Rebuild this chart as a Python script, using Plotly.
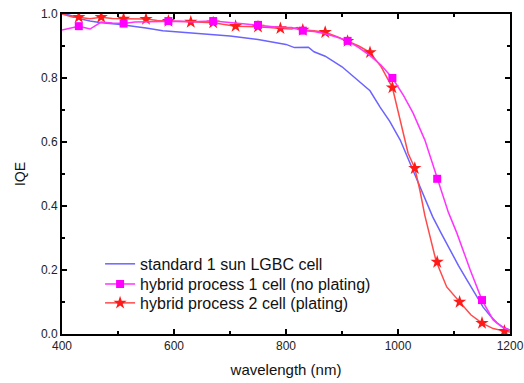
import plotly.graph_objects as go

# ---- data ----
std_x = [400, 410, 420, 430, 450, 470, 500, 530, 550, 580, 600, 650, 700, 750, 780, 800,
         815, 830, 840, 850, 870, 900, 930, 950, 968, 985, 1004, 1025, 1036, 1052, 1062,
         1077, 1093, 1108, 1123, 1138, 1152, 1165, 1177, 1188, 1195, 1200]
std_y = [1.0, 0.998, 0.993, 0.986, 0.978, 0.973, 0.968, 0.962, 0.956, 0.948, 0.945, 0.939,
         0.931, 0.92, 0.912, 0.905, 0.895, 0.897, 0.896, 0.882, 0.868, 0.835, 0.79, 0.76,
         0.709, 0.665, 0.606, 0.52, 0.47, 0.405, 0.366, 0.315, 0.262, 0.214, 0.169, 0.124,
         0.084, 0.056, 0.034, 0.021, 0.015, 0.012]

np_x = [400, 415, 430, 450, 470, 490, 510, 530, 550, 570, 590, 610, 630, 650, 670, 690,
        710, 730, 750, 770, 790, 810, 830, 850, 870, 890, 910, 930, 950, 970, 990, 1010,
        1027, 1048, 1070, 1090, 1105, 1129, 1150, 1170, 1188, 1200]
np_y = [0.95, 0.955, 0.962, 0.953, 0.975, 0.972, 0.97, 0.975, 0.976, 0.977, 0.978, 0.977,
        0.976, 0.977, 0.978, 0.975, 0.972, 0.969, 0.966, 0.962, 0.958, 0.958, 0.948, 0.945,
        0.938, 0.928, 0.916, 0.895, 0.87, 0.84, 0.80, 0.745, 0.69, 0.606, 0.485, 0.38,
        0.316, 0.2, 0.106, 0.044, 0.019, 0.012]
np_mx = [430, 510, 590, 670, 750, 830, 910, 990, 1070, 1150]
np_my = [0.962, 0.97, 0.978, 0.978, 0.966, 0.948, 0.916, 0.80, 0.485, 0.106]

pl_x = [400, 410, 420, 430, 450, 470, 490, 510, 530, 550, 570, 590, 610, 630, 650, 670,
        690, 710, 730, 750, 770, 790, 810, 820, 830, 850, 870, 890, 910, 930, 950, 970,
        990, 1007, 1018, 1030, 1039, 1048, 1068, 1087, 1110, 1130, 1150, 1170, 1190, 1200]
pl_y = [1.0, 0.995, 0.99, 0.99, 0.985, 0.99, 0.986, 0.985, 0.985, 0.984, 0.98, 0.978,
        0.976, 0.975, 0.974, 0.973, 0.968, 0.962, 0.961, 0.96, 0.958, 0.955, 0.953, 0.958,
        0.95, 0.948, 0.943, 0.93, 0.915, 0.9, 0.88, 0.835, 0.77, 0.647, 0.565, 0.518,
        0.45, 0.37, 0.228, 0.147, 0.10, 0.06, 0.034, 0.017, 0.009, 0.006]
pl_mx = [430, 470, 510, 550, 590, 630, 670, 710, 750, 790, 830, 870, 910, 950, 990,
         1030, 1070, 1110, 1150, 1190]
pl_my = [0.99, 0.99, 0.985, 0.984, 0.978, 0.975, 0.973, 0.962, 0.96, 0.955, 0.95, 0.943,
         0.915, 0.88, 0.77, 0.518, 0.225, 0.10, 0.034, 0.009]

names = ["standard 1 sun LGBC cell", "hybrid process 1 cell (no plating)",
         "hybrid process 2 cell (plating)"]

BLUE = "#6b63ff"
MAG = "#ff33ff"
RED = "#ff4a4a"
FONT = "Liberation Sans, Arial"

fig = go.Figure()
fig.add_trace(go.Scatter(x=std_x, y=std_y, mode="lines", line=dict(color=BLUE, width=1.5),
                         showlegend=False))
fig.add_trace(go.Scatter(x=pl_x, y=pl_y, mode="lines", line=dict(color=RED, width=1.5),
                         showlegend=False))
fig.add_trace(go.Scatter(x=pl_mx, y=pl_my, mode="markers",
                         marker=dict(symbol="star", size=10, color="#ff1a1a"),
                         showlegend=False))
fig.add_trace(go.Scatter(x=np_x, y=np_y, mode="lines", line=dict(color=MAG, width=1.5),
                         showlegend=False))
fig.add_trace(go.Scatter(x=np_mx, y=np_my, mode="markers",
                         marker=dict(symbol="square", size=8, color="#ff00ff"),
                         showlegend=False))
# legend entries (one legend per row for tight row spacing)
fig.add_trace(go.Scatter(x=[None], y=[None], mode="lines", name=names[0],
                         line=dict(color=BLUE, width=1.5), legend="legend"))
fig.add_trace(go.Scatter(x=[None], y=[None], mode="lines+markers", name=names[1],
                         line=dict(color=MAG, width=1.5), legend="legend2",
                         marker=dict(symbol="square", size=8, color="#ff00ff")))
fig.add_trace(go.Scatter(x=[None], y=[None], mode="lines+markers", name=names[2],
                         line=dict(color=RED, width=1.5), legend="legend3",
                         marker=dict(symbol="star", size=10, color="#ff1a1a")))

axis_common = dict(showline=True, linecolor="black", linewidth=2, mirror="ticks",
                   ticks="inside", ticklen=5, tickwidth=2, tickcolor="black",
                   showgrid=False, zeroline=False, automargin=False,
                   ticklabeloverflow="allow",
                   tickfont=dict(family=FONT, size=12, color="#222"))

fig.update_xaxes(range=[400, 1200], tickvals=[400, 600, 800, 1000, 1200],
                 minor=dict(tickvals=[500, 700, 900, 1100], ticks="inside", ticklen=3,
                            tickwidth=1.5, tickcolor="black"),
                 title=dict(text="wavelength (nm)", standoff=12,
                            font=dict(family=FONT, size=15, color="#111")),
                 **axis_common)
fig.update_yaxes(range=[0, 1.0], tickvals=[0, 0.2, 0.4, 0.6, 0.8, 1.0],
                 ticktext=["0.0", "0.2", "0.4", "0.6", "0.8", "1.0"],
                 minor=dict(tickvals=[0.1, 0.3, 0.5, 0.7, 0.9], ticks="inside", ticklen=3,
                            tickwidth=1.5, tickcolor="black"),
                 title=dict(text="IQE", standoff=12,
                            font=dict(family=FONT, size=14, color="#111")),
                 **axis_common)

leg_common = dict(x=0.085, xanchor="left", yanchor="middle", bgcolor="rgba(0,0,0,0)",
                  font=dict(family=FONT, size=16, color="#111"))

fig.update_layout(
    width=524, height=383,
    margin=dict(l=62, r=14, t=14, b=49),
    plot_bgcolor="white", paper_bgcolor="white",
    legend=dict(y=0.219, **leg_common),
    legend2=dict(y=0.156, **leg_common),
    legend3=dict(y=0.097, **leg_common),
)

# remove the page's default 8px body margin so the figure sits at the window origin
fig.write_html("out.html", config={"displayModeBar": False},
               post_script="document.body.style.margin='0';")
